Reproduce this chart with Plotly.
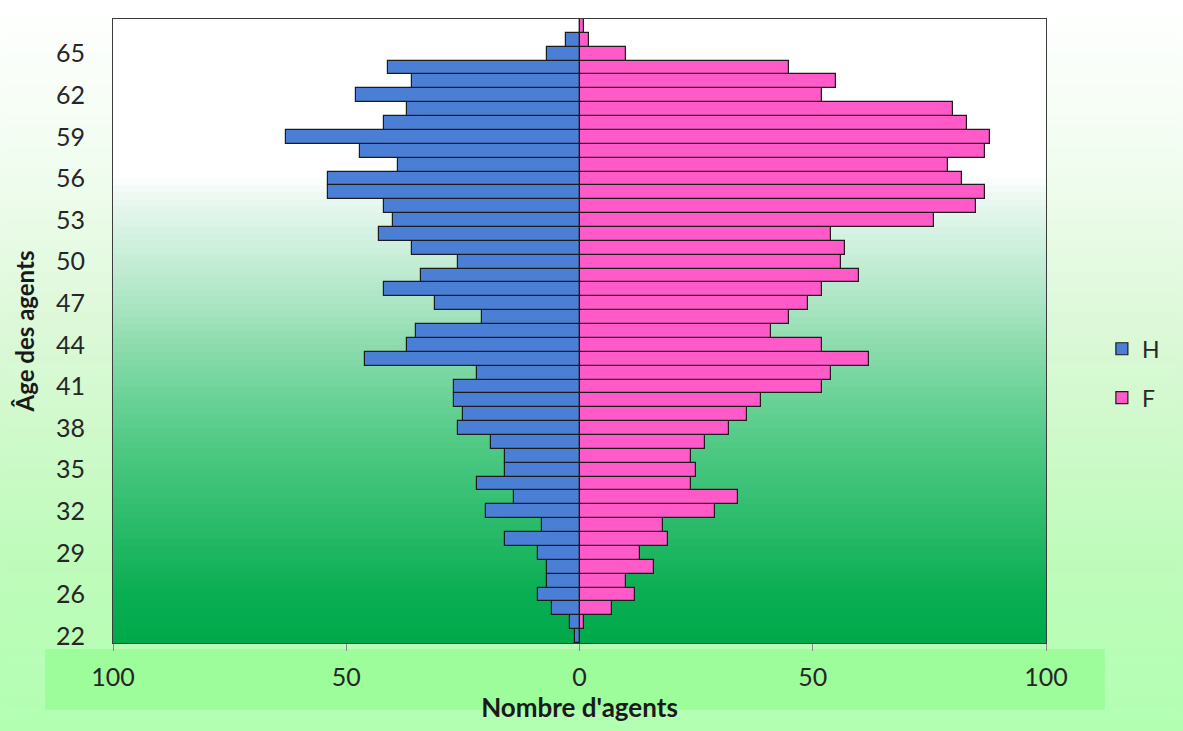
import plotly.graph_objects as go

# ---------------- data (bottom to top) ----------------
ages = ['22', '24', '25', '26', '27', '28', '29', '30', '31', '32', '33', '34',
        '35', '36', '37', '38', '39', '40', '41', '42', '43', '44', '45', '46',
        '47', '48', '49', '50', '51', '52', '53', '54', '55', '56', '57', '58',
        '59', '60', '61', '62', '63', '64', '65', '66', '67']

hommes = [1, 2, 6, 9, 7, 7, 9, 16, 8, 20, 14, 22,
          16, 16, 19, 26, 25, 27, 27, 22, 46, 37, 35, 21,
          31, 42, 34, 26, 36, 43, 40, 42, 54, 54, 39, 47,
          63, 42, 37, 48, 36, 41, 7, 3, 0]

femmes = [0, 1, 7, 12, 10, 16, 13, 19, 18, 29, 34, 24,
          25, 24, 27, 32, 36, 39, 52, 54, 62, 52, 41, 45,
          49, 52, 60, 56, 57, 54, 76, 85, 87, 82, 79, 87,
          88, 83, 80, 52, 55, 45, 10, 2, 1]

age_ticks = ['22', '26', '29', '32', '35', '38', '41', '44', '47', '50',
             '53', '56', '59', '62', '65']

x_tick_vals = [-100, -50, 0, 50, 100]
x_tick_text = ['100', '50', '0', '50', '100']

series_names = ['H', 'F']

# ---------------- styling ----------------
OFF = 8                       # default page margin of the browser body
W, H = 1183 - 2 * OFF, 731 - 2 * OFF
ML, MR = 113 - OFF, W - (1048 - OFF)
MT, MB = 18 - OFF, H - (645 - OFF)
PW, PH = W - ML - MR, H - MT - MB

BLUE = '#4b7fd6'
PINK = '#ff5ac8'
EDGE = '#1c1c1c'
FONT = 'Lato'


def hex2rgb(h):
    h = h.lstrip('#')
    return tuple(int(h[i:i + 2], 16) for i in (0, 2, 4))


def color_at(stops, t):
    for (p0, c0), (p1, c1) in zip(stops[:-1], stops[1:]):
        if p0 <= t <= p1:
            f = 0 if p1 == p0 else (t - p0) / (p1 - p0)
            a, b = hex2rgb(c0), hex2rgb(c1)
            return 'rgb(%d,%d,%d)' % tuple(round(a[k] + (b[k] - a[k]) * f) for k in range(3))
    return stops[-1][1]


def strips(stops, x0, x1, y0, y1, n):
    out = []
    step = (y1 - y0) / n
    for i in range(n):
        ya = y0 + i * step
        yb = ya + step * 1.6
        t = (i + 0.5) / n
        out.append(dict(type='rect', xref='paper', yref='paper', layer='below',
                        x0=x0, x1=x1, y0=ya, y1=min(yb, y1),
                        fillcolor=color_at(stops, t), line=dict(width=0)))
    return out


def px(ref_x):
    return (ref_x - OFF - ML) / PW


def py(ref_y):
    return (H - MB - (ref_y - OFF)) / PH


# page background gradient (t = 0 bottom, 1 top)
page_stops = [(0.0, '#b2ffb2'), (0.25, '#c0fbbc'), (0.55, '#dcf8d8'),
              (0.8, '#f3fdf2'), (1.0, '#ffffff')]
# plot area gradient
plot_stops = [(0.0, '#00a94a'), (0.08, '#0aae53'), (0.16, '#22b764'),
              (0.24, '#39c174'), (0.32, '#50c984'), (0.40, '#6dd39a'),
              (0.48, '#8edcae'), (0.56, '#b1e7c8'), (0.64, '#cff0dd'),
              (0.71, '#eaf8f0'), (0.75, '#ffffff'), (1.0, '#ffffff')]

shapes = []
shapes += strips(page_stops, px(0), px(1183), py(731), py(0), 70)
# brighter band behind the value axis labels
shapes.append(dict(type='rect', xref='paper', yref='paper', layer='below',
                   x0=px(45), x1=px(1107), y0=py(712), y1=py(651),
                   fillcolor='#9cfd9a', line=dict(width=0)))
shapes += strips(plot_stops, 0, 1, 0, 1, 90)

fig = go.Figure()
fig.add_trace(go.Bar(
    y=ages, x=[-v for v in hommes], orientation='h', name=series_names[0],
    legendgroup='h',
    marker=dict(color=BLUE, line=dict(color=EDGE, width=1.2)),
    customdata=hommes, hovertemplate='%{y}: %{customdata}<extra>H</extra>'))
fig.add_trace(go.Bar(
    y=ages, x=femmes, orientation='h', name=series_names[1],
    legendgroup='f',
    marker=dict(color=PINK, line=dict(color=EDGE, width=1.2)),
    hovertemplate='%{y}: %{x}<extra>F</extra>'))

fig.update_layout(
    width=W, height=H, autosize=False,
    margin=dict(l=ML, r=MR, t=MT, b=MB, pad=0),
    paper_bgcolor='#ffffff', plot_bgcolor='rgba(0,0,0,0)',
    barmode='relative', bargap=0,
    shapes=shapes,
    font=dict(family=FONT, color='#262626'),
    showlegend=True,
    legend=dict(x=px(1104), xanchor='left', y=py(374),
                yanchor='middle', bgcolor='rgba(0,0,0,0)',
                font=dict(family=FONT, size=23, color='#262626'),
                traceorder='grouped', tracegroupgap=16, itemwidth=30),
    xaxis=dict(range=[-100, 100], tickvals=x_tick_vals, ticktext=x_tick_text,
               ticks='outside', ticklen=7, tickcolor='#8a8a8a', tickwidth=1,
               ticklabelstandoff=5,
               showline=True, mirror=True, linecolor='#3c3c3c', linewidth=1,
               zeroline=True, zerolinecolor='#222222', zerolinewidth=1,
               showgrid=False,
               tickfont=dict(family=FONT, size=25, color='#262626'),
               title=dict(text="Nombre d'agents", standoff=4,
                          font=dict(family=FONT, size=26, weight='bold', color='#1a1a1a'))),
    yaxis=dict(type='category', categoryorder='array', categoryarray=ages,
               range=[-0.5, len(ages) - 0.5], tickvals=age_ticks,
               ticks='', ticklabelstandoff=22,
               showline=True, mirror=True, linecolor='#3c3c3c', linewidth=1,
               showgrid=False,
               tickfont=dict(family=FONT, size=25, color='#262626'),
               title=dict(text='Âge des agents', standoff=14,
                          font=dict(family=FONT, size=24, weight='bold', color='#1a1a1a'))),
)

page_css = ("document.documentElement.style.background="
            "'linear-gradient(#ffffff 0%, #f3fdf2 20%, #dcf8d8 45%, #c0fbbc 75%, #b2ffb2 100%)';")

fig.write_html('out.html', config={'displayModeBar': False}, post_script=page_css)
